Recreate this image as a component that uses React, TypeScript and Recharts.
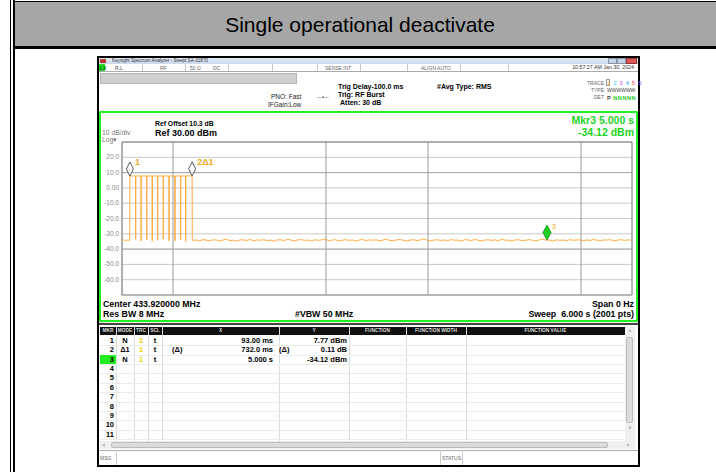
import React from 'react';
import { LineChart, Line, XAxis, YAxis, CartesianGrid, ReferenceLine, ReferenceDot } from 'recharts';

// trace samples: time in s, level in dBm
const preTimes = [0, 0.02, 0.04, 0.06, 0.08];
const preLevels = [-34.4, -33.9, -34.6, -34.0, -34.3];

const burstTimes = [
  0.09, 0.093,
  0.159, 0.161, 0.163,
  0.222, 0.224, 0.226,
  0.289, 0.291, 0.293,
  0.354, 0.356, 0.358,
  0.418, 0.42, 0.422,
  0.484, 0.486, 0.488,
  0.551, 0.553, 0.555,
  0.622, 0.624, 0.626,
  0.688, 0.69, 0.692,
  0.747, 0.749, 0.751,
  0.825, 0.827,
];
const burstLevels = [
  -34.2, 7.77,
  7.79, -33.6, 7.76,
  7.8, -34.8, 7.78,
  7.75, -33.9, 7.8,
  7.77, -34.9, 7.79,
  7.76, -34.2, 7.78,
  7.8, -33.5, 7.77,
  7.75, -34.6, 7.79,
  7.78, -34.7, 7.76,
  7.8, -33.8, 7.77,
  7.79, -34.9, 7.78,
  7.88, -34.3,
];

const floorStart = 0.83;
const floorStep = 0.04;
const floorLevels = [
  -34.3, -34.0, -34.6, -33.8, -34.2, -34.5, -33.9, -34.1, -34.7, -34.0,
  -33.6, -34.4, -34.2, -34.8, -33.9, -34.1, -34.3, -33.7, -34.6, -34.0,
  -34.2, -33.8, -34.5, -34.1, -34.9, -33.9, -34.0, -34.4, -33.5, -34.2,
  -34.6, -34.0, -33.8, -34.3, -34.1, -34.7, -33.9, -34.2, -34.0, -33.4,
  -34.5, -34.1, -33.9, -34.6, -34.2, -33.8, -34.3, -34.0, -34.8, -34.1,
  -33.7, -34.4, -34.0, -34.2, -33.9, -34.6, -34.1, -33.6, -34.3, -34.5,
  -34.0, -33.8, -34.2, -34.7, -34.1, -33.9, -34.4, -34.0, -33.3, -34.2,
  -34.6, -34.1, -33.9, -34.3, -34.0, -34.5, -33.8, -34.2, -34.1, -34.8,
  -33.9, -34.0, -34.4, -33.7, -34.2, -34.6, -34.1, -33.9, -34.3, -34.0,
  -34.5, -33.6, -34.2, -34.1, -34.7, -33.9, -34.0, -34.4, -34.2, -33.8,
  -34.3, -34.6, -34.0, -33.5, -34.2, -34.1, -34.8, -33.9, -34.3, -34.0,
  -34.5, -33.8, -34.2, -34.1, -33.9, -34.6, -34.0, -34.3, -33.7, -34.2,
  -34.4, -34.0, -34.1, -33.9, -34.5, -34.2, -33.8, -34.3, -34.0, -34.1,
];

const markers = [
  { id: '1', t: 0.093, v: 7.77 },
  { id: '2\u03941', t: 0.825, v: 7.88 },
  { id: '3', t: 5.0, v: -34.12 },
];

const yTicks = [30, 20, 10, 0, -10, -20, -30, -40, -50, -60, -70];
const xTicks = [0, 0.6, 1.2, 1.8, 2.4, 3.0, 3.6, 4.2, 4.8, 5.4, 6.0];
const darkX = [0.6, 2.4, 3.6, 5.4];
const darkY = [10, -40];

// marker table
const tableCols = ['MKR', 'MODE', 'TRC', 'SCL', 'X', 'Y', 'FUNCTION', 'FUNCTION WIDTH', 'FUNCTION VALUE'];
const colEdges = [100, 116, 134, 148, 162, 279, 349, 406, 466, 625];
const tableRows = [
  ['1', 'N', '1', 't', '', '93.00 ms', '', '7.77 dBm'],
  ['2', '\u03941', '1', 't', '(\u0394)', '732.0 ms', '(\u0394)', '0.11 dB'],
  ['3', 'N', '1', 't', '', '5.000 s', '', '-34.12 dBm'],
];
const rowCount = 11;

const traceData = [
  ...preTimes.map((t, i) => ({ t, v: preLevels[i] })),
  ...burstTimes.map((t, i) => ({ t, v: burstLevels[i] })),
  ...floorLevels.map((v, i) => ({ t: +(floorStart + i * floorStep).toFixed(3), v })),
];

const FONT = '"Liberation Sans", Arial, sans-serif';

const Txt = ({ x, y, s, w = 700, c = '#000', a = 'left', children }: any) => {
  const style: any = {
    position: 'absolute', top: y - s * 0.5, fontSize: s, lineHeight: `${s}px`,
    fontWeight: w, color: c, whiteSpace: 'pre',
  };
  if (a === 'right') style.right = 716 - x;
  else if (a === 'center') { style.left = x; style.transform = 'translateX(-50%)'; }
  else style.left = x;
  return <div style={style}>{children}</div>;
};

const Box = ({ x, y, w, h, ...rest }: any) => (
  <div style={{ position: 'absolute', left: x, top: y, width: w, height: h, boxSizing: 'border-box', ...rest }} />
);

const YTick = ({ x, y, payload }: any) => {
  const v = payload.value;
  if (v === 30 || v === -70) return <g />;
  return (
    <text x={x} y={y + 2} textAnchor="end" fontSize={6.5} fill="#8a8a8a" fontFamily={FONT}>
      {v === 0 ? '0.00' : v.toFixed(1)}
    </text>
  );
};

const markerShape = (id: string, green: boolean) => (props: any) => {
  const { cx, cy } = props;
  const h = green ? 15 : 14;
  const w = green ? 4 : 3.5;
  return (
    <g>
      <path
        d={`M${cx} ${cy - h} L${cx + w} ${cy - h / 2} L${cx} ${cy} L${cx - w} ${cy - h / 2} Z`}
        fill={green ? '#1fd01f' : '#ffffff'}
        stroke={green ? '#118811' : '#333'}
        strokeWidth={0.8}
      />
      <text
        x={cx + 5}
        y={cy - 11}
        fontSize={green ? 7 : 9}
        fontWeight={green ? 400 : 700}
        fill="#f5a623"
        fontFamily={FONT}
      >
        {id}
      </text>
    </g>
  );
};

const Trace = () => (
  <LineChart
    width={536}
    height={160}
    data={traceData}
    margin={{ top: 2, right: 4, bottom: 5, left: 0 }}
    style={{ position: 'absolute', left: 100, top: 140 }}
  >
    <CartesianGrid stroke="#c9c9c9" strokeWidth={1} />
    <XAxis
      dataKey="t" type="number" domain={[0, 6]} ticks={xTicks}
      tick={false} axisLine={false} tickLine={false} height={0}
    />
    <YAxis
      type="number" domain={[-70, 30]} ticks={yTicks} width={22}
      axisLine={false} tickLine={false} tickSize={0} tickMargin={3}
      tick={<YTick />} interval={0}
    />
    {darkX.map((x) => <ReferenceLine key={`dx${x}`} x={x} stroke="#9a9a9a" />)}
    {darkY.map((y) => <ReferenceLine key={`dy${y}`} y={y} stroke="#a8a8a8" />)}
    <ReferenceLine x={0} stroke="#7a7a7a" />
    <ReferenceLine x={6} stroke="#8a8a8a" />
    <ReferenceLine y={30} stroke="#7a7a7a" />
    <ReferenceLine y={-70} stroke="#8a8a8a" />
    <Line
      dataKey="v" type="linear" stroke="#ffab40" strokeWidth={1}
      dot={false} isAnimationActive={false}
    />
    {markers.map((m) => (
      <ReferenceDot key={m.id} x={m.t} y={m.v} r={4} shape={markerShape(m.id, m.id === '3')} />
    ))}
  </LineChart>
);

export default function App() {
  const rowY = (i: number) => 340.5 + i * 9.4;
  return (
    <div style={{ position: 'fixed', left: 0, top: 0, width: 716, height: 472, background: '#fff', fontFamily: FONT, overflow: 'hidden' }}>
      {/* document frame */}
      <Box x={14} y={1} w={702} h={45} background="#a6a6a6" borderTop="1px solid #000" />
      <Box x={10} y={0} w={1} h={472} background="#000" />
      <Box x={13} y={0} w={2} h={472} background="#000" />
      <Box x={13} y={46} w={703} h={3} background="#000" />
      <Txt x={360} y={24} s={21} w={400} a="center">Single operational deactivate</Txt>

      {/* analyzer window */}
      <Box x={97} y={56} w={543} h={411} border="2px solid #000" background="#f4f4f4" />
      <Box x={99} y={58} w={539} h={6} background="linear-gradient(#e2ebf6, #c9d8ec)" />
      <Box x={100} y={59} w={6} h={4} background="#b33" />
      <Txt x={112} y={61} s={4.6} w={400} c="#333">Keysight Spectrum Analyzer - Swept SA-31870</Txt>
      <Box x={608} y={58} w={9} h={6} background="#c6d3e4" border="1px solid #8797ad" />
      <Box x={617} y={58} w={9} h={6} background="#c6d3e4" border="1px solid #8797ad" />
      <Box x={626} y={58} w={11} h={6} background="#d55" border="1px solid #933" />

      {/* status row */}
      <Box x={99} y={64} w={539} h={8} background="#fff" borderBottom="1px solid #aaa" />
      <Box x={99} y={64} w={6} h={7} background="#22dd22" />
      <Txt x={100} y={68} s={5} c="#060">LX</Txt>
      {[142, 185, 228, 272, 317, 360, 407, 460, 508].map((x) => (
        <Box key={x} x={x} y={64} w={1} h={7} background="#c8c8c8" />
      ))}
      <Txt x={115} y={68} s={5} w={400} c="#444">R.L</Txt>
      <Txt x={160} y={68} s={5} w={400} c="#666">RF</Txt>
      <Txt x={190} y={68} s={5} w={400} c="#666">{'50 \u03a9'}</Txt>
      <Txt x={213} y={68} s={5} w={400} c="#666">DC</Txt>
      <Txt x={325} y={68} s={5} w={400} c="#666">SENSE:INT</Txt>
      <Txt x={421} y={68} s={5} w={400} c="#666">ALIGN AUTO</Txt>
      <Txt x={634} y={68} s={5.3} w={400} c="#333" a="right">10:57:27 AM Jan 30, 2024</Txt>

      {/* settings panel */}
      <Box x={99} y={72} w={539} h={39} background="#fff" />
      <Box x={100} y={73} w={197} h={11} background="#cfcfcf" border="1px solid #b5b5b5" />
      <Txt x={338} y={86} s={7}>Trig Delay-100.0 ms</Txt>
      <Txt x={338} y={94} s={7}>Trig: RF Burst</Txt>
      <Txt x={340} y={102} s={7}>Atten: 30 dB</Txt>
      <Txt x={437} y={86} s={7}>#Avg Type: RMS</Txt>
      <Txt x={271} y={97} s={6.5} w={400} c="#222">PNO: Fast</Txt>
      <Txt x={268} y={105} s={6.5} w={400} c="#222">IFGain:Low</Txt>
      <Txt x={316} y={97} s={6} w={400} c="#222">{'\u2192\u2022\u2190'}</Txt>
      <Txt x={604} y={83} s={5} w={400} c="#666" a="right">TRACE</Txt>
      <Txt x={604} y={90} s={5} w={400} c="#666" a="right">TYPE</Txt>
      <Txt x={604} y={97} s={5} w={400} c="#666" a="right">DET</Txt>
      <Box x={606} y={79} w={4} h={7} border="1px solid #999" />
      <div style={{ position: 'absolute', left: 607, top: 80, fontSize: 6, lineHeight: '6px', letterSpacing: 0.6, whiteSpace: 'nowrap' }}>
        <span style={{ color: '#f0c000' }}>1</span>
        <span style={{ color: '#27d5f0' }}> 2</span>
        <span style={{ color: '#e040e0' }}> 3</span>
        <span style={{ color: '#30a0ff' }}> 4</span>
        <span style={{ color: '#ff4444' }}> 5</span>
        <span style={{ color: '#8040ff' }}> 6</span>
      </div>
      <Txt x={607} y={90} s={5} w={400} c="#444">WWWWWW</Txt>
      <div style={{ position: 'absolute', left: 607, top: 94.5, fontSize: 5.5, lineHeight: '6px', letterSpacing: 0.6, whiteSpace: 'nowrap', fontWeight: 700 }}>
        <span style={{ color: '#444' }}>P</span>
        <span style={{ color: '#22cc22' }}> NNNNN</span>
      </div>

      {/* graticule panel */}
      <Box x={99} y={111} w={539} h={211} background="#fff" border="2px solid #22ee22" />
      <Txt x={155} y={124} s={6.8}>Ref Offset 10.3 dB</Txt>
      <Txt x={155} y={133.5} s={9}>Ref 30.00 dBm</Txt>
      <Txt x={102} y={133} s={6.8} w={400} c="#777">10 dB/div</Txt>
      <Txt x={102} y={140.5} s={6.8} w={400} c="#777">{'Log\u25be'}</Txt>
      <Txt x={634} y={120} s={10.5} c="#1fd41f" a="right">Mkr3 5.000 s</Txt>
      <Txt x={634} y={132} s={10.5} c="#1fd41f" a="right">-34.12 dBm</Txt>
      <Trace />
      <Txt x={103} y={304} s={8.8}>Center 433.920000 MHz</Txt>
      <Txt x={634} y={304} s={8.8} a="right">Span 0 Hz</Txt>
      <Txt x={103} y={314} s={8.8}>Res BW 8 MHz</Txt>
      <Txt x={295} y={314} s={8.8}>#VBW 50 MHz</Txt>
      <Txt x={634} y={314} s={8.8} a="right">{'Sweep  6.000 s (2001 pts)'}</Txt>

      {/* marker table */}
      <Box x={99} y={323} w={539} h={127} background="#fff" borderTop="2px solid #444" />
      <Box x={100} y={327} w={525} h={8} background="#111" />
      {colEdges.slice(1, -1).map((x) => (
        <Box key={`ce${x}`} x={x} y={327} w={1} h={117} background="#dcdcdc" />
      ))}
      {tableCols.map((c, i) => (
        <Txt key={c} x={(colEdges[i] + colEdges[i + 1]) / 2} y={331} s={4.8} c="#ddd" a="center">{c}</Txt>
      ))}
      {Array.from({ length: rowCount }).map((_, i) => (
        <React.Fragment key={`r${i}`}>
          <Box x={100} y={rowY(i) + 4.6} w={525} h={1} background="#ececec" />
          {i === 2 && <Box x={100} y={rowY(i) - 4} w={16} h={8.4} background="#22ee22" />}
          <Txt x={114} y={rowY(i)} s={7.5} a="right">{String(i + 1)}</Txt>
        </React.Fragment>
      ))}
      {tableRows.map((r, i) => (
        <React.Fragment key={`d${i}`}>
          <Txt x={125} y={rowY(i)} s={7.5} a="center">{r[1]}</Txt>
          <Txt x={141} y={rowY(i)} s={7.5} c="#f0d000" a="center">{r[2]}</Txt>
          <Txt x={155} y={rowY(i)} s={7.5} a="center">{r[3]}</Txt>
          <Txt x={172} y={rowY(i)} s={7.5}>{r[4]}</Txt>
          <Txt x={273} y={rowY(i)} s={7.5} a="right">{r[5]}</Txt>
          <Txt x={279} y={rowY(i)} s={7.5}>{r[6]}</Txt>
          <Txt x={347} y={rowY(i)} s={7.5} a="right">{r[7]}</Txt>
        </React.Fragment>
      ))}
      {/* scrollbars */}
      <Box x={625} y={327} w={10} h={117} background="#f0f0f0" />
      <Box x={626} y={337} w={7} h={86} background="#dcdcdc" border="1px solid #bcbcbc" borderRadius={2} />
      <Txt x={630} y={331} s={5} w={400} c="#555" a="center">{'\u02c4'}</Txt>
      <Txt x={630} y={428} s={5} w={400} c="#555" a="center">{'\u02c5'}</Txt>
      <Box x={100} y={441} w={535} h={8} background="#f0f0f0" />
      <Box x={111} y={442} w={497} h={6} background="#dcdcdc" border="1px solid #bcbcbc" borderRadius={2} />
      <Txt x={104} y={445} s={5} w={400} c="#555" a="center">{'\u02c2'}</Txt>
      <Txt x={628} y={445} s={5} w={400} c="#555" a="center">{'\u02c3'}</Txt>

      {/* status bar */}
      <Box x={99} y={450} w={539} h={15} background="#fff" borderTop="1px solid #aaa" />
      <Box x={116} y={450} w={1} h={15} background="#ccc" />
      <Box x={440} y={450} w={1} h={15} background="#ccc" />
      <Box x={462} y={450} w={1} h={15} background="#ccc" />
      <Txt x={100} y={458} s={5} w={400} c="#666">MSG</Txt>
      <Txt x={442} y={458} s={5} w={400} c="#666">STATUS</Txt>
    </div>
  );
}
